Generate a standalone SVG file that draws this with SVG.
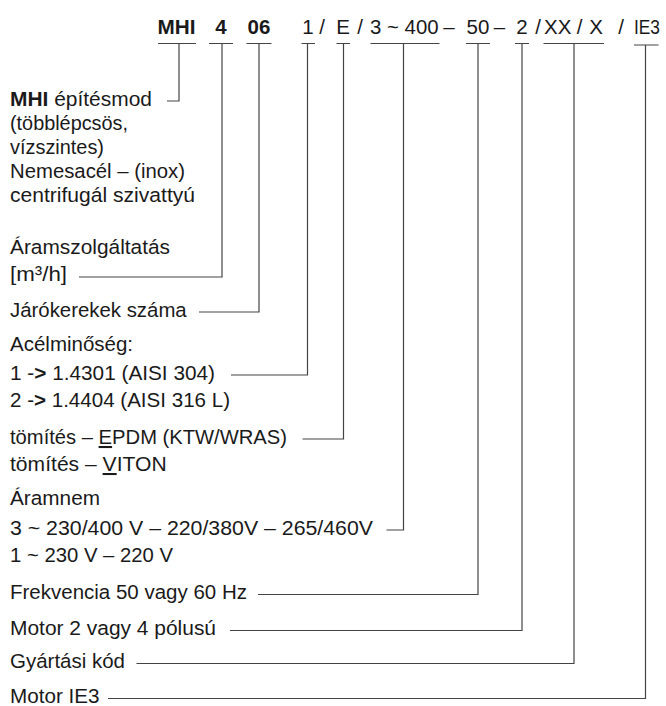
<svg xmlns="http://www.w3.org/2000/svg" width="666" height="706" viewBox="0 0 666 706">
<style>
text{font-family:"Liberation Sans",Arial,sans-serif;font-size:20.5px;fill:#1a1a1a}
.b{font-weight:bold}
.ln{fill:none;stroke:#444;stroke-width:1.2}
</style>
<rect width="666" height="706" fill="#fff"/>
<g id="code">
<text x="157.6" y="34" class="b" textLength="38" lengthAdjust="spacingAndGlyphs">MHI</text>
<text x="221" y="34" class="b" text-anchor="middle">4</text>
<text x="259" y="34" class="b" text-anchor="middle">06</text>
<text x="308" y="34" text-anchor="middle">1</text>
<text x="322" y="34" text-anchor="middle">/</text>
<text x="343" y="34" text-anchor="middle">E</text>
<text x="360" y="34" text-anchor="middle">/</text>
<text x="370" y="34" textLength="68.6" lengthAdjust="spacingAndGlyphs">3 ~ 400</text>
<text x="449" y="34" text-anchor="middle">–</text>
<text x="478" y="34" text-anchor="middle">50</text>
<text x="499.5" y="34" text-anchor="middle">–</text>
<text x="522" y="34" text-anchor="middle">2</text>
<text x="538" y="34" text-anchor="middle">/</text>
<text x="557.7" y="34" text-anchor="middle">XX</text>
<text x="579.6" y="34" text-anchor="middle">/</text>
<text x="596" y="34" text-anchor="middle">X</text>
<text x="621" y="34" text-anchor="middle">/</text>
<text x="634" y="34" textLength="26" lengthAdjust="spacingAndGlyphs">IE3</text>
</g>
<g id="n-mhi">
<text x="10" y="106" textLength="142" lengthAdjust="spacingAndGlyphs"><tspan class="b">MHI</tspan> építésmod</text>
<text x="10" y="130" textLength="118" lengthAdjust="spacingAndGlyphs">(többlépcsös,</text>
<text x="10" y="154" textLength="94" lengthAdjust="spacingAndGlyphs">vízszintes)</text>
<text x="10" y="178" textLength="175" lengthAdjust="spacingAndGlyphs">Nemesacél – (inox)</text>
<text x="10" y="202" textLength="185" lengthAdjust="spacingAndGlyphs">centrifugál szivattyú</text>
</g>
<g id="n-flow">
<text x="10" y="254" textLength="160" lengthAdjust="spacingAndGlyphs">Áramszolgáltatás</text>
<text x="10" y="281" textLength="57" lengthAdjust="spacingAndGlyphs">[m³/h]</text>
</g>
<g id="n-stages">
<text x="10" y="317" textLength="176.7" lengthAdjust="spacingAndGlyphs">Járókerekek száma</text>
</g>
<g id="n-steel">
<text x="10" y="351">Acélminőség:</text>
<text x="10" y="380" textLength="205" lengthAdjust="spacingAndGlyphs">1 -<tspan class="b">&gt;</tspan> 1.4301 (AISI 304)</text>
<text x="10" y="407" textLength="220" lengthAdjust="spacingAndGlyphs">2 -<tspan class="b">&gt;</tspan> 1.4404 (AISI 316 L)</text>
</g>
<g id="n-seal">
<text x="10" y="444" textLength="277" lengthAdjust="spacingAndGlyphs">tömítés – <tspan text-decoration="underline">E</tspan>PDM (KTW/WRAS)</text>
<text x="10" y="471" textLength="156.7" lengthAdjust="spacingAndGlyphs">tömítés – <tspan text-decoration="underline">V</tspan>ITON</text>
</g>
<g id="n-current">
<text x="10" y="505" textLength="90" lengthAdjust="spacingAndGlyphs">Áramnem</text>
<text x="10" y="535" textLength="363" lengthAdjust="spacingAndGlyphs">3 ~ 230/400 V – 220/380V – 265/460V</text>
<text x="10" y="562" textLength="163" lengthAdjust="spacingAndGlyphs">1 ~ 230 V – 220 V</text>
</g>
<g id="n-freq">
<text x="10" y="599" textLength="237" lengthAdjust="spacingAndGlyphs">Frekvencia 50 vagy 60 Hz</text>
</g>
<g id="n-poles">
<text x="10" y="635" textLength="206" lengthAdjust="spacingAndGlyphs">Motor 2 vagy 4 pólusú</text>
</g>
<g id="n-prod">
<text x="10" y="668" textLength="115" lengthAdjust="spacingAndGlyphs">Gyártási kód</text>
</g>
<g id="n-ie3">
<text x="10" y="703" textLength="89.5" lengthAdjust="spacingAndGlyphs">Motor IE3</text>
</g>
<g id="connectors" class="ln">
<path d="M158 43.5H196M179 43.5V101H167"/>
<path d="M209 43.5H233M222 43.5V277H79"/>
<path d="M246.5 43.5H271.5M259 43.5V312H199"/>
<path d="M301.5 43.5H315M307.5 43.5V375H231"/>
<path d="M336.5 43.5H350M343.5 43.5V439H302.5"/>
<path d="M370.5 43.5H439.5M403.5 43.5V530H386.5"/>
<path d="M466 43.5H490M478 43.5V594.5H258"/>
<path d="M515 43.5H529M522 43.5V630.5H230"/>
<path d="M543.5 43.5H604M574 43.5V663.5H136.5"/>
<path d="M634 45H658.5M645.5 45V698.5H108"/>
</g>
</svg>
